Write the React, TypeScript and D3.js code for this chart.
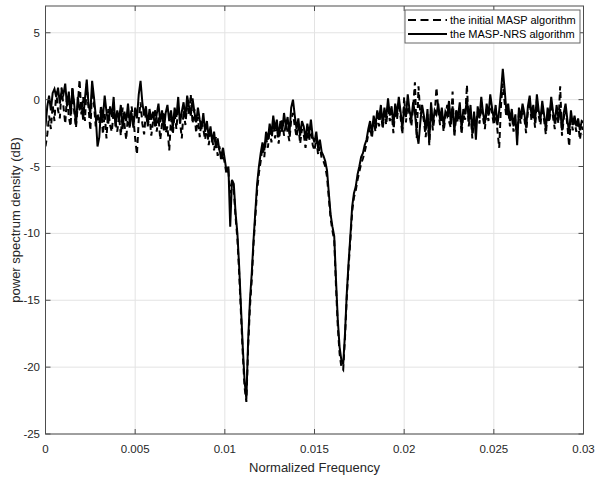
import React from "react";
import * as d3 from "d3";

const W = 600;
const H = 479;
const F_STEP = 0.0001;

const xTicks = [0, 0.005, 0.01, 0.015, 0.02, 0.025, 0.03];
const xTickLabels = ["0", "0.005", "0.01", "0.015", "0.02", "0.025", "0.03"];
const yTicks = [-25, -20, -15, -10, -5, 0, 5];
const yTickLabels = ["-25", "-20", "-15", "-10", "-5", "0", "5"];

const seriesNames = ["the initial MASP algorithm", "the MASP-NRS algorithm"];

// the MASP-NRS algorithm (solid), PSD in dB, f = 0 .. 0.03 step 0.0001
const nrsValues = [
  -2.0, -0.5, 0.3, -0.8, 0.5, 0.8, 0.2, 0.9, -0.3, 0.7,
  0.4, 1.2, -0.5, 0.6, -1.2, 0.8, -0.3, -1.9, 0.2, -0.8,
  -0.2, -1.5, 0.1, 1.5, -0.4, -1.0, 1.4, 0.2, -1.2, -3.5,
  -2.8, -0.6, -1.4, 0.3, -0.9, -1.8, -0.5, -1.3, 0.2, -2.0,
  -0.8, -1.5, -0.4, -2.2, -0.9, -1.6, -0.3, -1.8, -1.0, -2.1,
  -0.6, -1.4, 0.4, 1.4, -0.2, -1.2, -0.5, -1.9, -0.7, -1.5,
  -0.9, -2.0, -1.1, -0.3, -1.7, -0.8, -2.3, -1.0, -0.4, -1.6,
  -0.8, -2.1, -0.6, -1.3, 0.2, -1.8, -0.9, -0.2, -1.4, 0.3,
  -0.5, -1.2, 0.1, -0.9, -1.7, -0.6, -1.5, -2.2, -1.0, -2.4,
  -1.6, -2.8, -2.0, -3.2, -2.4, -3.6, -2.9, -3.8, -4.2, -3.6,
  -4.5, -5.4, -5.0, -9.5, -6.0, -6.3, -8.5, -10.0, -12.5, -15.5,
  -18.5, -21.0, -22.4, -18.0, -15.0, -13.0, -10.5, -8.4, -6.3, -5.0,
  -4.0, -3.2, -3.8, -2.4, -3.0, -1.8, -2.6, -1.2, -2.2, -1.5,
  -2.8, -1.6, -2.4, -1.0, -2.0, -1.3, -2.6, -0.6, 0.0, -1.2,
  -2.2, -1.4, -2.7, -1.6, -2.0, -3.0, -1.8, -2.6, -1.5, -2.8,
  -3.2, -2.4, -3.6, -3.0, -3.9, -4.2, -4.6, -5.3, -7.0, -8.6,
  -9.5, -10.2, -13.5, -16.5, -18.5, -19.5, -19.8, -17.5, -14.5, -12.2,
  -10.2, -8.0, -7.0, -6.5, -5.6, -5.0, -4.3, -4.0, -3.4, -3.0,
  -2.2, -1.6, -2.5, -1.2, -2.0, -0.8, -1.5, -0.4, -1.8, -0.6,
  -1.4, 0.1, -1.2, -0.5, -2.0, -0.3, -1.1, 0.2, -0.9, -2.2,
  -0.5, -1.3, 0.4, -0.8, -1.5, -0.2, -1.0, -2.5, -3.3, -1.7,
  -0.4, -1.2, -2.3, -0.7, -3.2, -0.2, -1.9, -0.8, -1.1, -0.3,
  -1.5, -0.6, -2.0, -0.9, -1.2, -0.1, -1.7, -0.5, -2.4, -0.8,
  -1.3, -0.2, -2.2, -0.7, -1.1, 0.1, -1.6, -0.4, -2.5, -0.9,
  -3.0, -0.5, -1.4, 0.2, -1.0, -1.8, -0.3, -1.2, 0.4, -0.6,
  -1.5, -0.4, -1.9, -0.8, 0.6, 2.3, 0.8, -0.9, -0.3, -1.6,
  -0.7, -2.0, -1.1, -3.4, -0.6, -1.4, -0.3, -1.0, -2.1, -0.5,
  0.3, -1.2, -0.4, -1.7, 0.4, -0.8, -1.5, -0.1, -1.1, -2.2,
  -0.6, -1.3, 0.2, -0.9, -1.8, -0.4, -1.4, -0.7, -2.3, -1.0,
  -0.3, -1.5, -2.5, -0.8, -1.9, -1.2, -2.0, -1.4, -2.3, -1.6,
  -1.7,
];

// the initial MASP algorithm (dashed)
const initialValues = [
  -3.5, -2.6, -1.2, -2.2, -0.4, -1.6, 0.6, -0.8, -1.4, 0.9,
  -0.5, -1.8, 0.3, -1.3, -2.0, 1.0, -0.9, -2.1, -0.4, 1.5,
  -1.1, 0.2, -1.6, 1.2, -0.6, -2.3, 0.7, -0.3, -2.0, -1.0,
  -1.8, -0.4, -2.6, -1.0, -2.9, -0.7, -1.9, -2.4, -0.8, -1.6,
  -2.4, -1.2, -2.7, -0.6, -1.8, -3.0, -1.1, -2.2, -0.5, -1.4,
  -2.9, -4.1, -1.5, -0.2, -1.8, -2.6, -0.9, -2.0, -1.2, -2.7,
  -1.6, -0.7, -2.4, -1.3, -3.0, -1.8, -0.9, -2.5, -2.0, -3.8,
  -1.4, -2.6, -1.0, -2.2, -0.5, -1.6, -2.9, -0.8, -1.9, -0.3,
  -1.2, 0.4, -1.8, -0.7, -2.5, -1.3, -2.8, -1.6, -2.2, -3.0,
  -2.0, -3.4, -2.5, -3.0, -3.8, -2.8, -4.2, -3.5, -4.6, -4.0,
  -4.8, -5.6, -5.4, -7.0, -6.2, -6.8, -8.8, -10.4, -13.0, -16.0,
  -19.0, -21.5, -22.6, -18.5, -15.5, -13.5, -10.8, -8.8, -6.8, -5.5,
  -4.6, -3.5, -4.3, -2.8, -3.6, -2.2, -3.2, -1.6, -2.9, -2.0,
  -3.3, -2.1, -1.4, -2.7, -1.8, -2.4, -3.1, -1.5, -1.0, -2.0,
  -2.8, -1.9, -3.3, -2.2, -2.6, -3.6, -2.4, -3.1, -2.0, -3.4,
  -3.8, -2.9, -4.1, -3.5, -4.4, -4.6, -5.0, -5.8, -7.4, -8.9,
  -9.8, -10.5, -14.0, -17.0, -19.0, -20.0, -20.2, -17.8, -14.8, -12.5,
  -10.5, -8.4, -7.3, -6.8, -6.0, -5.4, -4.8, -4.4, -3.9, -3.3,
  -2.6, -2.0, -2.9, -1.6, -2.4, -1.2, -2.0, -0.8, -2.2, -1.0,
  -1.9, -0.4, -1.6, -0.9, -2.5, -0.7, -1.5, -0.2, -1.3, -2.6,
  0.2, -1.7, -0.1, -1.2, -2.0, -0.6, 1.3, -2.9, 1.0, -1.1,
  -0.8, -1.6, -2.8, -1.1, -3.4, -0.6, -2.3, -1.2, 0.9, -0.7,
  -1.9, -1.0, -2.4, -1.3, -0.4, -1.6, -2.1, 0.6, -2.8, -1.2,
  -1.7, -0.6, -2.6, -1.1, -1.5, 1.1, -2.0, -0.8, -2.9, -1.3,
  -1.6, -0.9, -1.8, -0.2, -1.4, -2.2, -0.7, -1.6, -0.1, -1.0,
  -1.9, -0.8, -2.3, -3.6, -0.4, 1.2, -0.2, -1.3, -0.7, -2.0,
  -1.1, -2.4, -1.5, -2.7, -1.0, -1.8, -0.7, -1.4, -2.5, -0.9,
  -0.1, -1.6, -0.8, -2.1, 0.0, -1.2, -1.9, -0.5, -1.5, -2.6,
  -1.0, -1.7, -0.2, -1.3, -2.2, -0.8, -1.8, 1.0, -2.7, -1.4,
  -0.7, -1.9, -3.5, -1.2, -2.3, -1.6, -2.4, -1.8, -3.0, -2.0,
  -2.6,
];

const FONT = "'Liberation Sans', Arial, Helvetica, sans-serif";

export default function App() {
  const left = 45.5;
  const right = 583.5;
  const top = 6;
  const bottom = 434;

  const x = d3.scaleLinear().domain([0, 0.03]).range([left, right]);
  const y = d3.scaleLinear().domain([-25, 7]).range([bottom, top]);

  const line = d3
    .line<number>()
    .x((_, i) => x(i * F_STEP))
    .y((v) => y(v));

  const axisColor = "#4d4d4d";
  const gridColor = "#e3e3e3";
  const tickLen = 5;

  return (
    <svg
      width={W}
      height={H}
      style={{ position: "absolute", left: 0, top: 0, background: "#fff" }}
      fontFamily={FONT}
    >
      <rect x={0} y={0} width={W} height={H} fill="#fff" />
      {/* grid */}
      {xTicks.map((t, i) => (
        <line key={"gx" + i} x1={x(t)} x2={x(t)} y1={top} y2={bottom} stroke={gridColor} strokeWidth={1} />
      ))}
      {yTicks.map((t, i) => (
        <line key={"gy" + i} x1={left} x2={right} y1={y(t)} y2={y(t)} stroke={gridColor} strokeWidth={1} />
      ))}

      {/* data */}
      <g clipPath="url(#plotclip)">
        <path d={line(initialValues) || ""} fill="none" stroke="#000" strokeWidth={2} strokeDasharray="6,4" />
        <path d={line(nrsValues) || ""} fill="none" stroke="#000" strokeWidth={2} />
      </g>
      <defs>
        <clipPath id="plotclip">
          <rect x={left} y={top} width={right - left} height={bottom - top} />
        </clipPath>
      </defs>

      {/* box */}
      <rect x={left} y={top} width={right - left} height={bottom - top} fill="none" stroke={axisColor} strokeWidth={1} />

      {/* ticks */}
      {xTicks.map((t, i) => (
        <g key={"tx" + i}>
          <line x1={x(t)} x2={x(t)} y1={bottom} y2={bottom - tickLen} stroke={axisColor} />
          <line x1={x(t)} x2={x(t)} y1={top} y2={top + tickLen} stroke={axisColor} />
          <text x={x(t)} y={453} textAnchor="middle" fontSize={11.5} fill="#262626">
            {xTickLabels[i]}
          </text>
        </g>
      ))}
      {yTicks.map((t, i) => (
        <g key={"ty" + i}>
          <line x1={left} x2={left + tickLen} y1={y(t)} y2={y(t)} stroke={axisColor} />
          <line x1={right} x2={right - tickLen} y1={y(t)} y2={y(t)} stroke={axisColor} />
          <text x={40} y={y(t) + 4} textAnchor="end" fontSize={11.5} fill="#262626">
            {yTickLabels[i]}
          </text>
        </g>
      ))}

      {/* axis labels */}
      <text x={(left + right) / 2} y={472} textAnchor="middle" fontSize={13} fill="#262626">
        Normalized Frequency
      </text>
      <text
        transform={`translate(20, ${(top + bottom) / 2}) rotate(-90)`}
        textAnchor="middle"
        fontSize={13}
        fill="#262626"
      >
        power spectrum density (dB)
      </text>

      {/* legend */}
      <rect x={405} y={10} width={175} height={33} fill="#fff" stroke="#666" strokeWidth={1} />
      <line x1={408} x2={447} y1={20} y2={20} stroke="#000" strokeWidth={2} strokeDasharray="8,4.5" />
      <text x={450} y={24} fontSize={11} fill="#000">
        {seriesNames[0]}
      </text>
      <line x1={408} x2={447} y1={34} y2={34} stroke="#000" strokeWidth={2} />
      <text x={450} y={38} fontSize={11} fill="#000">
        {seriesNames[1]}
      </text>
    </svg>
  );
}
